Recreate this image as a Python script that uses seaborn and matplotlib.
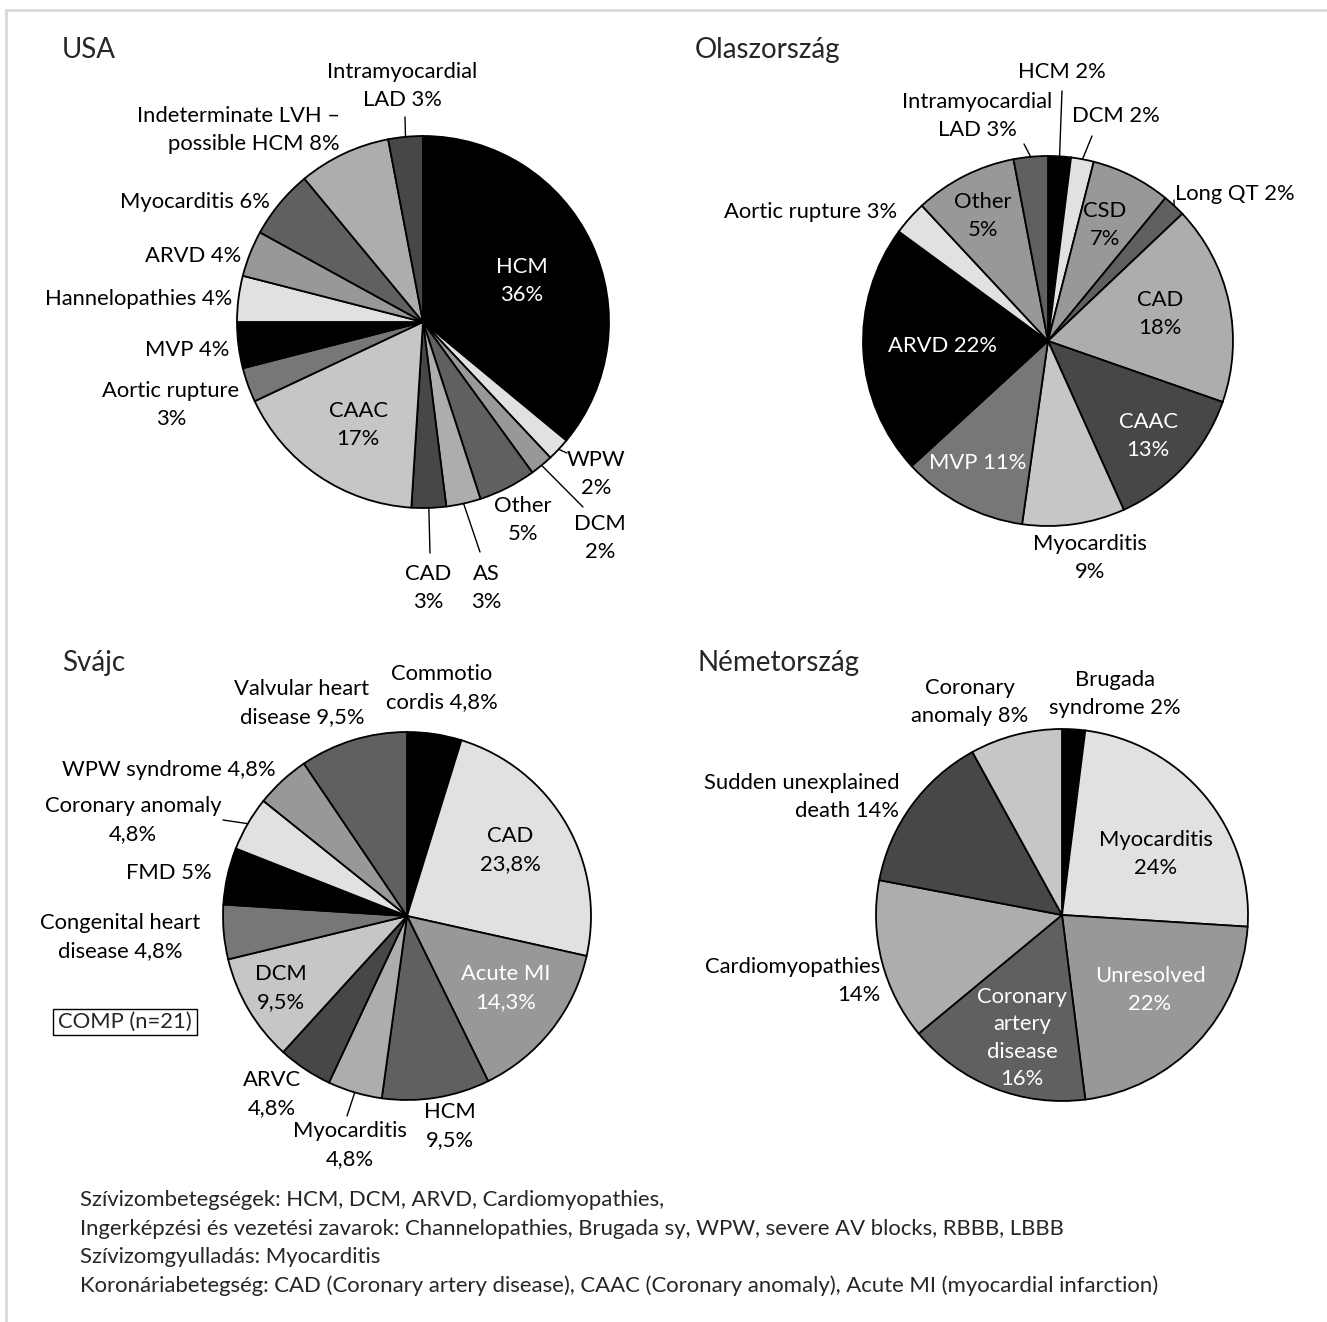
import numpy as np
import seaborn as sns
import matplotlib.pyplot as plt
from matplotlib.patches import Rectangle

sns.set_theme(style="white")
plt.rcParams['font.family'] = ['Lato', 'DejaVu Sans']

# grey shades, the same cycle is used by all four pies
GREYS = sns.color_palette(['#000000', '#e1e1e3', '#98989b', '#606063',
                           '#adadb0', '#47474a', '#c6c6c8', '#77777a'])

# ---- data ----
usa_names = ["HCM", "WPW", "DCM", "Other", "AS", "CAD", "CAAC", "Aortic rupture",
             "MVP", "Hannelopathies", "ARVD", "Myocarditis",
             "Indeterminate LVH –\npossible HCM", "Intramyocardial\nLAD"]
usa_values = [36, 2, 2, 5, 3, 3, 17, 3, 4, 4, 4, 6, 8, 3]
usa_pct = ["36%", "2%", "2%", "5%", "3%", "3%", "17%", "3%", "4%", "4%", "4%", "6%", "8%", "3%"]

ita_names = ["HCM", "DCM", "CSD", "Long QT", "CAD", "CAAC", "Myocarditis", "MVP",
             "ARVD", "Aortic rupture", "Other", "Intramyocardial\nLAD"]
# slice sizes as drawn (the "Other" slice is drawn larger than its 5% label)
ita_values = [2, 2, 7, 2, 17.5, 13, 9, 11, 22, 3, 9, 3]
ita_pct = ["2%", "2%", "7%", "2%", "18%", "13%", "9%", "11%", "22%", "3%", "5%", "3%"]

sui_names = ["Commotio\ncordis", "CAD", "Acute MI", "HCM", "Myocarditis", "ARVC", "DCM",
             "Congenital heart\ndisease", "FMD", "Coronary anomaly", "WPW syndrome",
             "Valvular heart\ndisease"]
sui_values = [4.8, 23.8, 14.3, 9.5, 4.8, 4.8, 9.5, 4.8, 5, 4.8, 4.8, 9.5]
sui_pct = ["4,8%", "23,8%", "14,3%", "9,5%", "4,8%", "4,8%", "9,5%", "4,8%", "5%",
           "4,8%", "4,8%", "9,5%"]

ger_names = ["Brugada\nsyndrome", "Myocarditis", "Unresolved", "Coronary\nartery\ndisease",
             "Cardiomyopathies", "Sudden unexplained\ndeath", "Coronary\nanomaly"]
ger_values = [2, 24, 22, 16, 14, 14, 8]
ger_pct = ["2%", "24%", "22%", "16%", "14%", "14%", "8%"]

titles = ["USA", "Olaszország", "Svájc", "Németország"]

footnote = ["Szívizombetegségek: HCM, DCM, ARVD, Cardiomyopathies,",
            "Ingerképzési és vezetési zavarok: Channelopathies, Brugada sy, WPW, severe AV blocks, RBBB, LBBB",
            "Szívizomgyulladás: Myocarditis",
            "Koronáriabetegség: CAD (Coronary artery disease), CAAC (Coronary anomaly), Acute MI (myocardial infarction)"]

# ---- layout (pixel coordinates, y downwards) ----
# label: (x, y, ha, separator, text colour, leader end or None)
W, K = 'white', 'black'
usa_layout = dict(center=(423, 322), r=186, title=(62, 50), labels=[
    (522, 281, 'center', '\n', W, None),
    (596, 474, 'center', '\n', K, (567, 453)),
    (600, 538, 'center', '\n', K, (583, 507)),
    (523, 520, 'center', '\n', K, None),
    (486, 588, 'center', '\n', K, (480, 552)),
    (428, 588, 'center', '\n', K, (430, 553)),
    (358, 425, 'center', '\n', K, None),
    (171, 405, 'center', '\n', K, None),
    (229, 350, 'right', ' ', K, None),
    (232, 299, 'right', ' ', K, None),
    (241, 256, 'right', ' ', K, None),
    (270, 202, 'right', ' ', K, None),
    (340, 130, 'right', ' ', K, None),
    (402, 86, 'center', ' ', K, (405, 117)),
])
ita_layout = dict(center=(1048, 341), r=185, title=(695, 50), labels=[
    (1062, 72, 'center', ' ', K, (1062, 91)),
    (1116, 116, 'center', ' ', K, (1092, 136)),
    (1105, 225, 'center', '\n', K, None),
    (1175, 194, 'left', ' ', K, (1174, 200)),
    (1160, 314, 'center', '\n', K, None),
    (1148, 436, 'center', '\n', W, None),
    (1090, 558, 'center', '\n', K, None),
    (978, 463, 'center', ' ', W, None),
    (942, 346, 'center', ' ', W, None),
    (897, 212, 'right', ' ', K, None),
    (983, 216, 'center', '\n', K, None),
    (977, 116, 'center', ' ', K, (1024, 144)),
])
sui_layout = dict(center=(407, 916), r=184, title=(62, 663), labels=[
    (442, 688, 'center', ' ', K, None),
    (510, 850, 'center', '\n', K, None),
    (506, 988, 'center', '\n', W, None),
    (450, 1126, 'center', '\n', K, None),
    (350, 1145, 'center', '\n', K, (347, 1116)),
    (272, 1094, 'center', '\n', K, None),
    (281, 988, 'center', '\n', K, None),
    (120, 937, 'center', ' ', K, None),
    (212, 873, 'right', ' ', K, None),
    (133, 820, 'center', '\n', K, (223, 820)),
    (276, 770, 'right', ' ', K, None),
    (302, 703, 'center', ' ', K, None),
])
ger_layout = dict(center=(1062, 915), r=186, title=(698, 663), labels=[
    (1115, 694, 'center', ' ', K, None),
    (1156, 854, 'center', '\n', K, None),
    (1150, 990, 'center', '\n', W, None),
    (1022, 1038, 'center', '\n', W, None),
    (880, 981, 'right', '\n', K, None),
    (899, 797, 'right', ' ', K, None),
    (970, 702, 'center', ' ', K, None),
])

FS = 15.8
LS = 1.45


def draw_pie(ax, names, values, pcts, lay, title):
    cx, cy = lay['center']
    r = lay['r']
    colors = [GREYS[i % len(GREYS)] for i in range(len(values))]
    # y axis is inverted, so counterclock in data = clockwise on screen
    wedges, _ = ax.pie(values, colors=colors, center=(cx, cy), radius=r,
                       startangle=-90, counterclock=True,
                       wedgeprops=dict(edgecolor='black', linewidth=1.3))
    for w, name, p, (x, y, ha, sep, tc, lead) in zip(wedges, names, pcts, lay['labels']):
        ax.text(x, y, name + sep + p, ha=ha, va='center', multialignment=ha,
                color=tc, fontsize=FS, linespacing=LS)
        if lead is not None:
            th = np.deg2rad((w.theta1 + w.theta2) / 2)
            x0, y0 = cx + r * np.cos(th), cy + r * np.sin(th)
            ax.plot([x0, lead[0]], [y0, lead[1]], color='black', lw=1)
    ax.text(lay['title'][0], lay['title'][1], title, ha='left', va='center', fontsize=20)


fig = plt.figure(figsize=(13.27, 13.22), dpi=100)
ax = fig.add_axes([0, 0, 1, 1])

draw_pie(ax, usa_names, usa_values, usa_pct, usa_layout, titles[0])
draw_pie(ax, ita_names, ita_values, ita_pct, ita_layout, titles[1])
draw_pie(ax, sui_names, sui_values, sui_pct, sui_layout, titles[2])
draw_pie(ax, ger_names, ger_values, ger_pct, ger_layout, titles[3])

# COMP box
ax.add_patch(Rectangle((53, 1009), 144, 26, fill=False, edgecolor='black', lw=1))
ax.text(125, 1022, "COMP (n=21)", ha='center', va='center', fontsize=FS)

for i, line in enumerate(footnote):
    ax.text(80, 1200 + i * 28.7, line, ha='left', va='center', fontsize=15.9)

# thin grey frame at top and left
ax.plot([6, 1327], [10, 10], color='#d9d9d9', lw=2)
ax.plot([6, 6], [10, 1322], color='#d9d9d9', lw=2)

ax.set_xlim(0, 1327)
ax.set_ylim(1322, 0)
ax.set_aspect('equal')
ax.axis('off')

fig.savefig("out.png", dpi=100)
